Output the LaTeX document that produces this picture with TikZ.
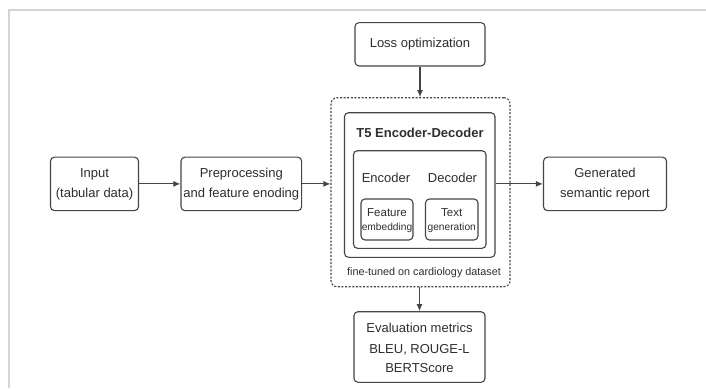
\documentclass[tikz,border=0pt]{standalone}
\usepackage{fontspec}
\setmainfont{Liberation Sans}
\usetikzlibrary{arrows.meta,positioning}
\definecolor{ln}{HTML}{454545}
\definecolor{tx}{HTML}{2E2E2E}
\definecolor{frm}{HTML}{D4D4D4}
\tikzset{
  box/.style={draw=ln, line width=1.1pt, rounded corners=4pt, fill=white, inner sep=0pt, align=center, text=tx, font=\fontsize{13}{20}\selectfont},
  dbox/.style={draw=ln, line width=1.1pt, dash pattern=on 2pt off 1.6pt, rounded corners=6pt, inner sep=0pt},
  lbl/.style={inner sep=0pt, text=tx, font=\fontsize{13}{20}\selectfont},
  arr/.style={draw=ln, line width=1.1pt, -{Latex[length=7pt,width=6pt]}},
}
\begin{document}
\begin{tikzpicture}[x=1pt,y=1pt]
\useasboundingbox (0,0) rectangle (706,-388);
\fill[white] (0,0) rectangle (706,-388);
\draw[frm, line width=1.3pt] (9,-388) -- (9,-10) -- (706,-10);

\node[box, minimum width=88pt, minimum height=53.5pt] (inp) at (94.5,-183.9) {Input\\(tabular data)};
\node[box, minimum width=120.7pt, minimum height=53.5pt] (pre) at (241.3,-183.9) {Preprocessing\\and feature enoding};
\node[box, minimum width=123pt, minimum height=53.5pt] (gen) at (605,-183.9) {Generated\\semantic report};
\node[box, minimum width=130pt, minimum height=43.3pt] (loss) at (420,-44.3) {Loss optimization};
\node[box, minimum width=131pt, minimum height=70.6pt] (eval) at (419.5,-347) {};
\node[lbl] (ev1) at (419.5,-328.3) {Evaluation metrics};
\node[lbl] (ev2) at (419.5,-350.2) {BLEU, ROUGE-L};
\node[lbl] (ev3) at (419.5,-368.3) {BERTScore};

\node[dbox, minimum width=179pt, minimum height=189pt] (dash) at (420.5,-192.2) {};
\node[box, minimum width=150.5pt, minimum height=144.6pt] (t5) at (419.75,-185) {};
\node[lbl, font=\bfseries\fontsize{13}{16}\selectfont] (t5t) at (420,-132.7) {T5 Encoder-Decoder};
\node[box, minimum width=132.5pt, minimum height=97.6pt] (inner) at (419.75,-199.5) {};
\node[lbl] (enc) at (386,-178) {Encoder};
\node[lbl] (dec) at (452.5,-178) {Decoder};
\node[box, minimum width=52pt, minimum height=41pt] (fe) at (387,-219.5) {};
\node[box, minimum width=52.5pt, minimum height=41pt] (tg) at (451.75,-219.5) {};
\node[lbl, font=\fontsize{11.5}{12}\selectfont] (fe1) at (387,-213) {Feature};
\node[lbl, font=\fontsize{10.2}{12}\selectfont] (fe2) at (387,-227.5) {embedding};
\node[lbl, font=\fontsize{11.5}{12}\selectfont] (tg1) at (451.75,-213) {Text};
\node[lbl, font=\fontsize{10.2}{12}\selectfont] (tg2) at (451.75,-227.5) {generation};
\node[lbl, font=\fontsize{10.8}{12}\selectfont] (ft) at (424,-273) {fine-tuned on cardiology dataset};

\draw[arr] (inp.east) -- (pre.west);
\draw[arr] (pre.east) -- (pre.east -| dash.west);
\draw[arr] (t5.east |- gen.west) -- (gen.west);
\draw[arr] (loss.south) -- (loss.south |- dash.north);
\draw[arr] (eval.north |- dash.south) -- (eval.north);
\end{tikzpicture}
\end{document}
